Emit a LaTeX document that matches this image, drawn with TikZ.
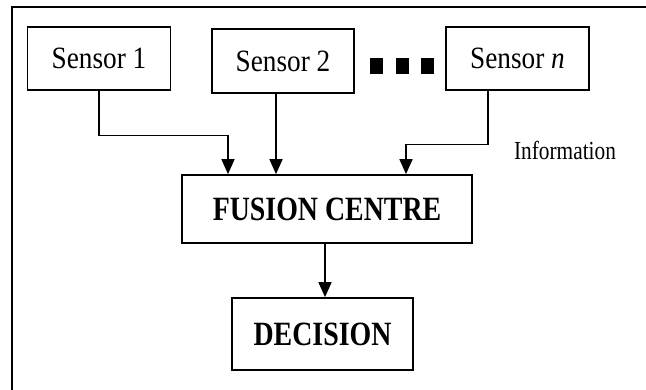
\documentclass[tikz,border=0pt]{standalone}
\usepackage{fontspec}
\setmainfont{Liberation Serif}
\usepackage{graphicx}
\usetikzlibrary{arrows.meta,positioning}

\newcommand{\squeeze}[2][0.82]{\scalebox{#1}[1]{#2}}

\tikzset{
  sensorbox/.style={draw, line width=1.4pt, minimum width=143pt, minimum height=63pt,
    inner sep=0pt, font=\fontsize{31}{34}\selectfont},
  bigbox/.style={draw, line width=1.7pt, inner sep=0pt, font=\fontsize{34}{38}\selectfont\bfseries},
  arr/.style={line width=1.6pt, -{Triangle[length=15pt,width=13pt]}},
  dot/.style={fill=black, minimum width=13pt, minimum height=16pt, inner sep=0pt}
}

\begin{document}
\begin{tikzpicture}[x=1pt, y=-1pt]
\useasboundingbox (0,0) rectangle (646,390);
% frame
\draw[line width=2pt] (12,390) -- (12,7) -- (646,7);

\node[sensorbox] (s1) at (99,58.5) {\squeeze[0.88]{Sensor 1}};
\node[sensorbox, minimum width=142pt, minimum height=64pt] (s2) at (283,61) {\squeeze[0.88]{Sensor 2}};
\node[sensorbox] (sn) at (517.5,58.5) {\squeeze[0.88]{Sensor \textit{n}}};
\foreach \x/\n in {376.5/d1, 402.5/d2, 427.5/d3}
  \node[dot] (\n) at (\x,66) {};

\node[bigbox, minimum width=290pt, minimum height=68pt] (fus) at (327,209) {\squeeze{FUSION CENTRE}};
\node[bigbox, minimum width=181pt, minimum height=72pt] (dec) at (322.5,334) {\squeeze{DECISION}};

\node[font=\fontsize{26}{28}\selectfont] (info) at (565,150) {\squeeze{Information}};

% inputs on the fusion centre
\coordinate (in1) at ([xshift=-99pt]fus.north);
\coordinate (in2) at ([xshift=-51pt]fus.north);
\coordinate (inn) at ([xshift=79pt]fus.north);
\coordinate (outn) at ([xshift=-29.5pt]sn.south);

\draw[arr] (s1.south) -- ++(0,45) -| (in1);
\draw[arr] (s2.south -| in2) -- (in2);
\draw[arr] (outn) -- ++(0,54) -| (inn);
\draw[arr] ([xshift=-2pt]fus.south) -- ([xshift=-2pt]fus.south |- dec.north);
\end{tikzpicture}
\end{document}
